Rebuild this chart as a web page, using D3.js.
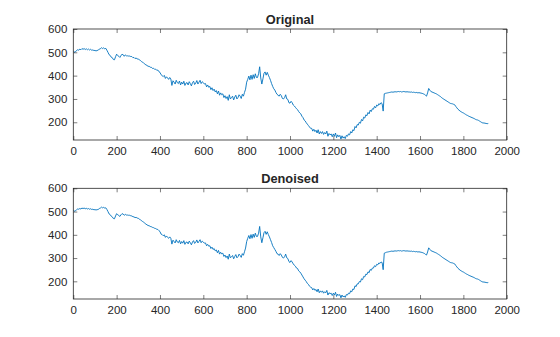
<!DOCTYPE html>
<html><head><meta charset="utf-8">
<script src="https://cdn.jsdelivr.net/npm/d3@7"></script>
<style>
html,body{margin:0;padding:0;background:#fff;}
svg{display:block;}
text{font-family:"Liberation Sans",Arial,Helvetica,sans-serif;fill:#262626;}
</style></head>
<body><svg id="chart" width="560" height="337"></svg>
<script>
// sample spacing on the x axis (sample index * step)
const sampleStep = 5;
const titles = ["Original", "Denoised"];
const xTicks = [0,200,400,600,800,1000,1200,1400,1600,1800,2000];
const yTicks = [200,300,400,500,600];
const xDomain = [0, 2000];
const yDomain = [124, 600];

const original = [
507,500,502,508,511,509,514,511,516,513,
516,512,515,511,514,510,513,509,510,508,
508,506,508,509,514,515,520,516,519,515,
517,509,500,490,487,479,477,469,468,481,
492,486,483,478,487,491,490,483,489,485,
485,484,484,482,482,477,478,473,476,471,
472,467,465,460,458,453,450,446,444,440,
440,436,436,431,432,427,428,423,424,417,
414,404,400,396,401,388,395,390,384,392,
386,358,378,372,364,380,370,366,377,360,
372,364,376,358,368,370,360,374,366,356,
370,376,362,368,379,364,372,380,366,374,
370,364,366,352,360,350,354,340,348,336,
342,330,336,322,334,316,326,318,322,306,
314,302,310,294,318,300,306,312,296,308,
316,300,306,318,312,302,320,312,328,342,
372,384,398,382,402,384,404,388,408,392,
392,408,438,390,364,386,410,416,402,414,
402,392,380,366,354,344,338,328,320,316,
312,320,314,302,300,306,318,300,298,284,
282,290,284,274,270,264,258,254,246,240,
236,226,220,210,206,198,192,186,180,174,
174,162,170,160,166,154,168,150,160,152,
160,148,156,150,162,140,152,146,150,138,
150,140,154,134,146,138,144,128,142,132,
138,130,144,140,150,146,160,154,168,164,
182,176,190,188,200,196,212,206,222,218,
232,228,242,236,252,246,258,256,268,262,
274,270,280,276,284,280,248,322,324,325,
326,327,328,329,330,329,330,331,330,331,
332,331,332,330,331,332,331,330,331,330,
330,329,330,328,329,328,327,328,326,327,
326,325,324,322,320,316,312,326,345,338,
332,330,328,326,324,322,319,316,313,310,
305,302,299,296,293,290,287,284,281,280,
279,277,275,268,262,256,252,248,245,242,
240,237,234,231,229,226,224,222,220,218,
216,213,211,210,208,205,202,199,197,197,
196,195,194,195
];

const denoised = [
507,501,503,508,511,510,513,511,515,513,
515,512,514,511,513,510,512,509,510,508,
508,507,508,509,513,515,519,516,518,515,
516,509,500,490,487,480,477,470,469,481,
491,486,483,479,486,491,489,484,488,485,
485,484,484,482,481,478,477,474,475,472,
471,467,465,460,457,454,450,446,443,440,
439,436,435,432,431,428,427,424,423,418,
414,403,401,396,400,389,395,389,385,391,
385,360,377,371,365,379,369,366,376,361,
371,364,375,359,368,369,361,373,366,357,
369,375,363,368,378,365,372,379,366,373,
369,364,365,353,359,351,353,341,347,337,
341,331,335,323,333,317,325,318,321,307,
313,302,309,295,317,301,306,311,297,307,
315,301,306,317,311,303,319,312,327,343,
371,385,397,383,401,385,403,389,407,393,
393,407,436,391,366,387,409,415,402,413,
401,391,379,367,353,345,337,329,319,317,
311,319,313,303,300,306,317,301,298,285,
281,289,283,275,269,265,257,255,245,241,
235,227,219,211,205,199,191,187,179,175,
173,163,169,161,165,155,167,151,159,153,
159,149,155,151,161,141,151,147,149,139,
149,141,153,135,145,139,143,129,141,133,
137,131,143,141,149,147,159,155,167,165,
181,177,189,189,199,197,211,207,221,219,
231,229,241,237,251,247,257,257,267,263,
273,271,279,277,283,281,250,321,323,325,
326,327,328,329,330,329,330,331,330,331,
332,331,332,330,331,332,331,330,331,330,
330,329,330,328,329,328,327,328,326,327,
326,325,324,322,320,316,313,326,344,338,
332,330,328,326,324,322,319,316,313,310,
305,302,299,296,293,290,287,284,281,280,
279,277,275,268,262,256,252,248,245,242,
240,237,234,231,229,226,224,222,220,218,
216,213,211,210,208,205,202,199,197,197,
196,195,194,195
];

const svg = d3.select("#chart");
const panels = [
  {data: original, title: titles[0], top: 29, bottom: 140},
  {data: denoised, title: titles[1], top: 188.3, bottom: 299}
];
const left = 73.3, right = 506.7;
const axisColor = "#262626";
const lineColor = "#0072BD";

panels.forEach((p, k) => {
  const x = d3.scaleLinear().domain(xDomain).range([left, right]);
  const y = d3.scaleLinear().domain(yDomain).range([p.bottom, p.top]);
  const g = svg.append("g");

  const clipId = "clip" + k;
  svg.append("clipPath").attr("id", clipId).append("rect")
    .attr("x", left).attr("y", p.top).attr("width", right-left).attr("height", p.bottom-p.top);

  const line = d3.line().x((d,i)=>x(i*sampleStep)).y(d=>y(d));
  g.append("path").datum(p.data)
    .attr("d", line).attr("fill","none")
    .attr("stroke", lineColor).attr("stroke-width", 0.9)
    .attr("stroke-linejoin","round")
    .attr("clip-path", `url(#${clipId})`);

  const fs = "11.5px";
  const fmt = d3.format("d");
  const bx = d3.axisBottom(x).tickValues(xTicks).tickSize(-4).tickPadding(7).tickSizeOuter(0).tickFormat(fmt);
  const tx = d3.axisTop(x).tickValues(xTicks).tickSize(-4).tickFormat("").tickSizeOuter(0);
  const ly = d3.axisLeft(y).tickValues(yTicks).tickSize(-4).tickPadding(6).tickSizeOuter(0).tickFormat(fmt);
  const ry = d3.axisRight(y).tickValues(yTicks).tickSize(-4).tickFormat("").tickSizeOuter(0);

  const gb = g.append("g").attr("transform",`translate(0,${p.bottom})`).call(bx);
  const gt = g.append("g").attr("transform",`translate(0,${p.top})`).call(tx);
  const gl = g.append("g").attr("transform",`translate(${left},0)`).call(ly);
  const gr = g.append("g").attr("transform",`translate(${right},0)`).call(ry);
  [gb,gt,gl,gr].forEach(a=>{
    a.selectAll("path.domain").remove();
    a.selectAll("line").attr("stroke", axisColor).attr("stroke-width",0.6);
    a.selectAll("text").style("font-size", fs).style("font-family","Liberation Sans, Arial, sans-serif").attr("fill", axisColor);
  });
  g.append("rect").attr("x",left).attr("y",p.top).attr("width",right-left).attr("height",p.bottom-p.top)
    .attr("fill","none").attr("stroke",axisColor).attr("stroke-width",0.8);

  g.append("text").attr("x",(left+right)/2).attr("y",p.top-5)
    .attr("text-anchor","middle").style("font-weight","bold").style("font-size","12.8px")
    .text(p.title);
});
</script></body></html>
